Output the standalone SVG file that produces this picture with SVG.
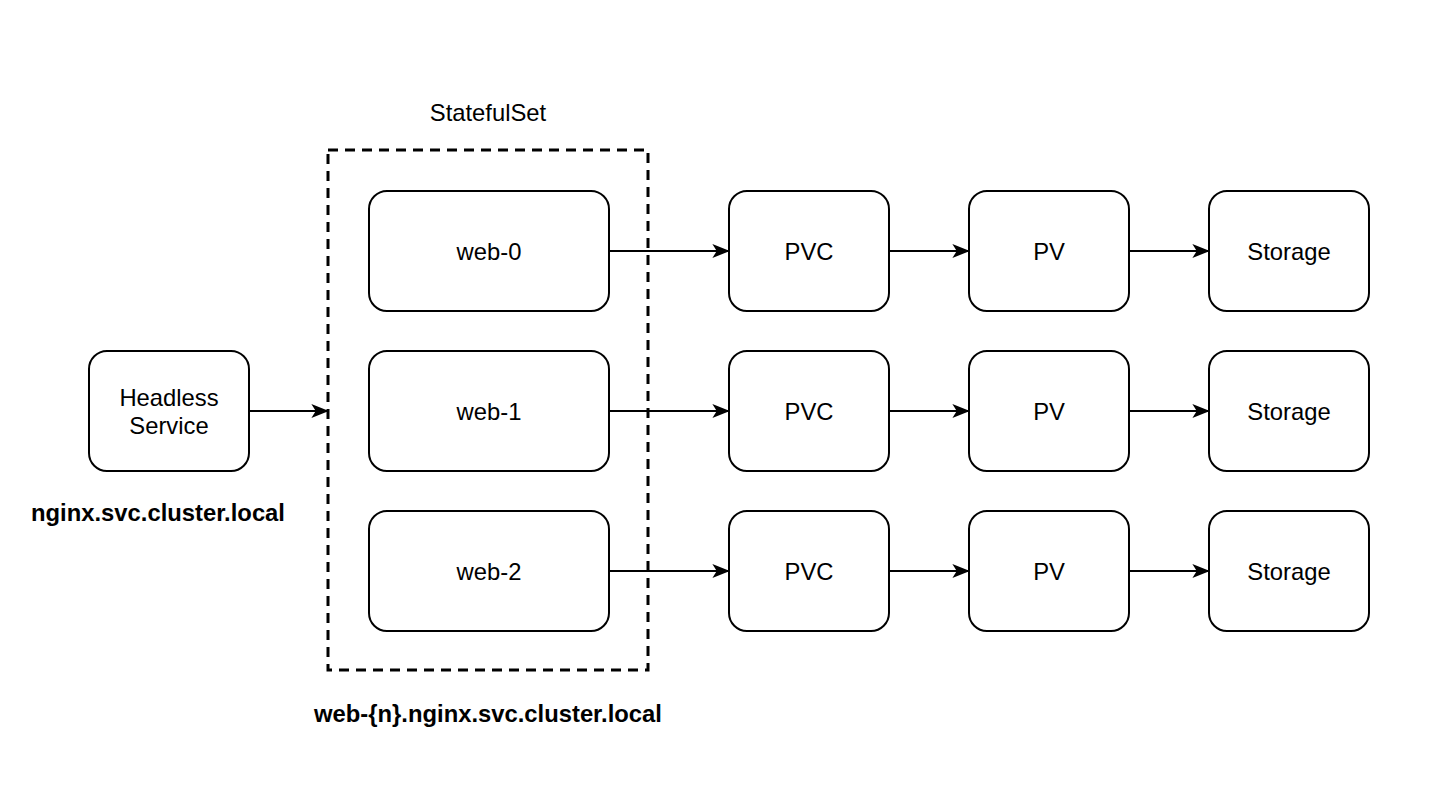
<svg xmlns="http://www.w3.org/2000/svg" width="1442" height="796" viewBox="0 0 1442 796">
<style>
.box{fill:#fff;stroke:#000;stroke-width:2}
.t{font-family:"Liberation Sans",Arial,sans-serif;font-size:23.8px;fill:#000;text-anchor:middle;dominant-baseline:central}
.b{font-weight:bold}
.e{stroke:#000;stroke-width:2;fill:none;marker-end:url(#arr)}
</style>
<defs>
<marker id="arr" viewBox="0 0 20 16" refX="19" refY="8" markerWidth="18" markerHeight="14" markerUnits="userSpaceOnUse" orient="auto">
<path d="M0,0 L20,8 L0,16 L5,8 Z" fill="#000"/>
</marker>
</defs>
<rect width="1442" height="796" fill="#fff"/>
<g id="statefulset">
<rect x="328" y="150" width="320" height="520" fill="none" stroke="#000" stroke-width="3" stroke-dasharray="10 7"/>
<text class="t" x="488" y="112">StatefulSet</text>
<text class="t b" x="488" y="713">web-{n}.nginx.svc.cluster.local</text>
</g>
<g id="headless">
<rect class="box" x="89" y="351" width="160" height="120" rx="18"/>
<text class="t" x="169" y="397">Headless</text>
<text class="t" x="169" y="425">Service</text>
<text class="t b" x="158" y="512">nginx.svc.cluster.local</text>
</g>
<g id="web-0"><rect class="box" x="369" y="191" width="240" height="120" rx="18"/><text class="t" x="489" y="251">web-0</text></g>
<g id="web-1"><rect class="box" x="369" y="351" width="240" height="120" rx="18"/><text class="t" x="489" y="411">web-1</text></g>
<g id="web-2"><rect class="box" x="369" y="511" width="240" height="120" rx="18"/><text class="t" x="489" y="571">web-2</text></g>
<g id="pvc-0"><rect class="box" x="729" y="191" width="160" height="120" rx="18"/><text class="t" x="809" y="251">PVC</text></g>
<g id="pvc-1"><rect class="box" x="729" y="351" width="160" height="120" rx="18"/><text class="t" x="809" y="411">PVC</text></g>
<g id="pvc-2"><rect class="box" x="729" y="511" width="160" height="120" rx="18"/><text class="t" x="809" y="571">PVC</text></g>
<g id="pv-0"><rect class="box" x="969" y="191" width="160" height="120" rx="18"/><text class="t" x="1049" y="251">PV</text></g>
<g id="pv-1"><rect class="box" x="969" y="351" width="160" height="120" rx="18"/><text class="t" x="1049" y="411">PV</text></g>
<g id="pv-2"><rect class="box" x="969" y="511" width="160" height="120" rx="18"/><text class="t" x="1049" y="571">PV</text></g>
<g id="storage-0"><rect class="box" x="1209" y="191" width="160" height="120" rx="18"/><text class="t" x="1289" y="251">Storage</text></g>
<g id="storage-1"><rect class="box" x="1209" y="351" width="160" height="120" rx="18"/><text class="t" x="1289" y="411">Storage</text></g>
<g id="storage-2"><rect class="box" x="1209" y="511" width="160" height="120" rx="18"/><text class="t" x="1289" y="571">Storage</text></g>
<g id="connectors">
<path class="e" d="M249,411 H328"/>
<path class="e" d="M609,251 H729"/>
<path class="e" d="M609,411 H729"/>
<path class="e" d="M609,571 H729"/>
<path class="e" d="M889,251 H969"/>
<path class="e" d="M889,411 H969"/>
<path class="e" d="M889,571 H969"/>
<path class="e" d="M1129,251 H1209"/>
<path class="e" d="M1129,411 H1209"/>
<path class="e" d="M1129,571 H1209"/>
</g>
</svg>
